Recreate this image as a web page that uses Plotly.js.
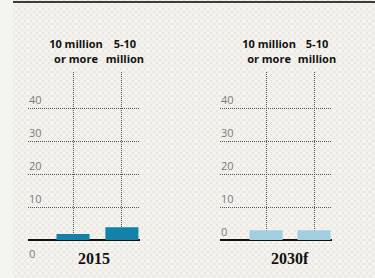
<!DOCTYPE html>
<html>
<head>
<meta charset="utf-8">
<script src="https://cdn.plot.ly/plotly-3.0.1.min.js"></script>
<style>
  html, body { margin:0; padding:0; width:375px; height:278px; overflow:hidden; background:#f4f4f1; }
  #bg { position:absolute; left:13px; top:0; width:362px; height:278px;
        background-color:#e9e6e0;
        background-image: radial-gradient(circle at 50% 50%, #f6f4f0 0, #f6f4f0 1.6px, rgba(246,244,240,0) 2.3px),
                          radial-gradient(circle at 50% 50%, #f3f1ec 0, #f3f1ec 1.6px, rgba(243,241,236,0) 2.3px);
        background-size: 6px 6px, 6px 6px;
        background-position: 0 0, 3px 3px; }
  #topline { position:absolute; left:13px; top:1px; width:362px; height:2px; background:#3c3c3c; }
  #chart { position:absolute; left:0; top:0; width:375px; height:278px; }
</style>
</head>
<body>
<div id="bg"></div>
<div id="topline"></div>
<div id="chart"></div>
<script>
// Data
const categories = ["10 million<br>or more", "5-10<br>million"];
const values2015 = [1.8, 3.9];
const values2030 = [3.0, 3.0];
const panelTitles = ["2015", "2030f"];
const yTicks = [0, 10, 20, 30, 40];

const W = 375, H = 278;
const px = v => v / W;
const py = v => 1 - v / H;

const traces = [
  { type:'bar', x:[0,1], y:values2015, width:0.675, marker:{color:'#1381aa'},
    xaxis:'x', yaxis:'y', hoverinfo:'skip' },
  { type:'bar', x:[0,1], y:values2030, width:0.69, marker:{color:'#a2cfe0'},
    xaxis:'x2', yaxis:'y2', hoverinfo:'skip' }
];

const labelFont = {family:'"Open Sans", "DejaVu Sans", sans-serif', size:11, color:'#7a7a7a', weight:400};

const xCommon = {
  type:'linear', side:'top', tickangle:0,
  tickvals:[0,1], ticktext:categories,
  showgrid:true, gridcolor:'#555', griddash:'1px,1px', gridwidth:1,
  zeroline:false, showline:false, ticks:'',
  tickfont:{family:'"Open Sans", "DejaVu Sans", sans-serif', size:11, color:'#111', weight:700},
  ticklabelstandoff:6, ticklabelshift:3, fixedrange:true
};
const yCommon = {
  range:[-0.05, 51], tickvals:yTicks.slice(1), ticktext:yTicks.slice(1).map(String),
  showgrid:true, gridcolor:'#555', griddash:'1px,1px', gridwidth:1,
  zeroline:true, zerolinecolor:'#111', zerolinewidth:1.5,
  showline:false, ticks:'', ticklabelposition:'inside',
  ticklabelshift:-8, ticklabelstandoff:-2,
  tickfont:labelFont,
  fixedrange:true
};

const layout = {
  width:W, height:H,
  margin:{l:0, r:0, t:0, b:0},
  paper_bgcolor:'rgba(0,0,0,0)', plot_bgcolor:'rgba(0,0,0,0)',
  showlegend:false,
  xaxis: Object.assign({}, xCommon, {domain:[px(28), px(140)], range:[-0.92, 1.37], anchor:'y'}),
  yaxis: Object.assign({}, yCommon, {domain:[py(240.2), py(72)], anchor:'x'}),
  xaxis2: Object.assign({}, xCommon, {domain:[px(220), px(332)], range:[-0.96, 1.375], anchor:'y2'}),
  yaxis2: Object.assign({}, yCommon, {domain:[py(240.2), py(72)], anchor:'x2',
            tickvals:yTicks, ticktext:yTicks.map(String)}),
  annotations: [
    { xref:'x domain', yref:'y', x:0, y:0, text:'0', showarrow:false,
      xanchor:'left', yanchor:'middle', yshift:-13, xshift:-1,
      font:labelFont },
    { xref:'x', yref:'y', x:0.42, y:0, text:panelTitles[0], showarrow:false,
      xanchor:'center', yanchor:'middle', yshift:-18,
      font:{family:'"Liberation Serif", "DejaVu Serif", serif', size:16, color:'#111', weight:'bold'} },
    { xref:'x2', yref:'y2', x:0.5, y:0, text:panelTitles[1], showarrow:false,
      xanchor:'center', yanchor:'middle', yshift:-18,
      font:{family:'"Liberation Serif", "DejaVu Serif", serif', size:16, color:'#111', weight:'bold'} }
  ]
};

Plotly.newPlot('chart', traces, layout, {staticPlot:true, displayModeBar:false});
</script>
</body>
</html>
